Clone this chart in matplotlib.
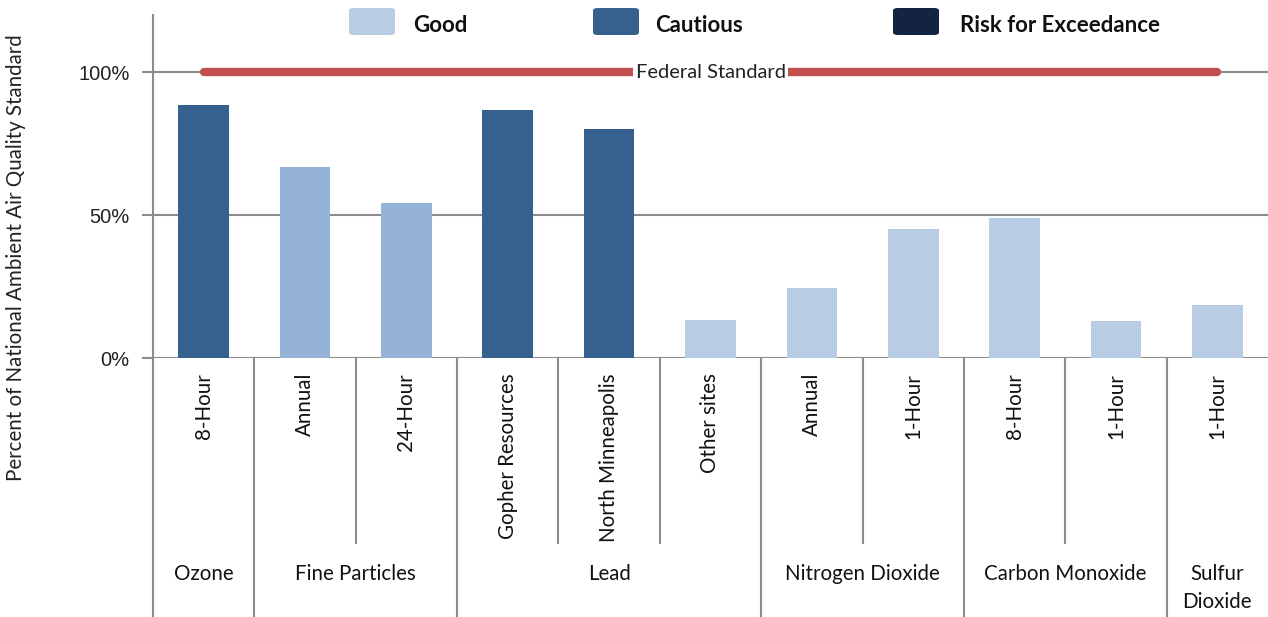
import matplotlib.pyplot as plt
from matplotlib.patches import FancyBboxPatch
import matplotlib.transforms as mtransforms
import numpy as np

plt.rcParams['font.family'] = ['Lato', 'DejaVu Sans']

# data
labels = ['8-Hour', 'Annual', '24-Hour', 'Gopher Resources', 'North Minneapolis',
          'Other sites', 'Annual', '1-Hour', '8-Hour', '1-Hour', '1-Hour']
values = [88.5, 66.8, 54.2, 86.7, 80.0, 13.3, 24.5, 45.1, 49.0, 12.9, 18.5]
status = ['Cautious', 'Fine', 'Fine', 'Cautious', 'Cautious',
          'Good', 'Good', 'Good', 'Good', 'Good', 'Good']
groups = ['Ozone', 'Fine Particles', 'Lead', 'Nitrogen Dioxide', 'Carbon Monoxide', 'Sulfur\nDioxide']
group_sizes = [1, 2, 3, 2, 2, 1]
standard = 100

colors = {'Good': '#b8cce4', 'Fine': '#95b3d7', 'Cautious': '#36618f', 'Risk': '#12243f'}
grid_c = '#8c8c8c'

fig = plt.figure(figsize=(12.68, 6.17), dpi=100)
ax = fig.add_axes([153/1268, 259/617, 1115/1268, 343/617])

x = np.arange(len(values))
ax.bar(x, values, width=0.5, color=[colors[s] for s in status], zorder=3)
ax.set_xlim(-0.5, len(values) - 0.5)
ax.set_ylim(0, 120)
ax.set_yticks([0, 50, 100])
ax.set_yticklabels(['0%', '50%', '100%'], family='Liberation Sans', fontsize=14.5, color='#222222')
ax.tick_params(axis='y', length=8, color=grid_c, width=1.5, pad=9)
ax.set_xticks([])
for yv in [0, 50, 100]:
    ax.axhline(yv, color=grid_c, lw=1.5, zorder=1)
for s in ['top', 'right', 'bottom']:
    ax.spines[s].set_visible(False)
ax.spines['left'].set_color(grid_c)
ax.spines['left'].set_linewidth(1.5)

# federal standard line
ax.plot([x[0], x[-1]], [standard, standard], color='#c0504d', lw=6,
        solid_capstyle='round', zorder=4)
ax.text((x[0] + x[-1]) / 2, standard, 'Federal Standard', ha='center', va='center',
        fontsize=14.5, color='#222222', zorder=5,
        bbox=dict(facecolor='white', edgecolor='none', pad=2))

# category axis below the plot
trans = mtransforms.blended_transform_factory(ax.transData, ax.transAxes)
for i, lab in enumerate(labels):
    ax.text(i, -0.044, lab, rotation=90, ha='center', va='top', fontsize=14.8,
            transform=trans, color='#111111')

ax.plot([-0.5, -0.5], [0, -0.755], color=grid_c, lw=1.5, transform=trans, clip_on=False)
start = 0
for g, size in zip(groups, group_sizes):
    end = start + size
    for b in range(start + 1, end):
        ax.plot([b - 0.5, b - 0.5], [0, -0.539], color=grid_c, lw=1.5,
                transform=trans, clip_on=False)
    if end < len(values):
        ax.plot([end - 0.5, end - 0.5], [0, -0.755], color=grid_c, lw=1.5,
                transform=trans, clip_on=False)
    ypos = -0.63 if '\n' not in g else -0.672
    ax.text((start + end - 1) / 2, ypos, g, ha='center', va='center', fontsize=14.8,
            transform=trans, color='#111111', linespacing=1.5)
    start = end

fig.text(16/1268, 1 - 258/617, 'Percent of National Ambient Air Quality Standard',
         rotation=90, ha='center', va='center', fontsize=14.8, color='#222222')

# legend
legend_items = [('Good', colors['Good'], 349, 413),
                ('Cautious', colors['Cautious'], 593, 655),
                ('Risk for Exceedance', colors['Risk'], 893, 960)]
for name, c, px, tx in legend_items:
    box = FancyBboxPatch((px/1268, 1 - 35/617), 46/1268, 27/617,
                         boxstyle='round,pad=0,rounding_size=0.004',
                         transform=fig.transFigure, facecolor=c, edgecolor='none')
    fig.patches.append(box)
    fig.text(tx/1268, 1 - 25/617, name, ha='left', va='center', fontsize=16,
             fontweight='bold', color='#111111')

fig.savefig('out.png', dpi=100)
